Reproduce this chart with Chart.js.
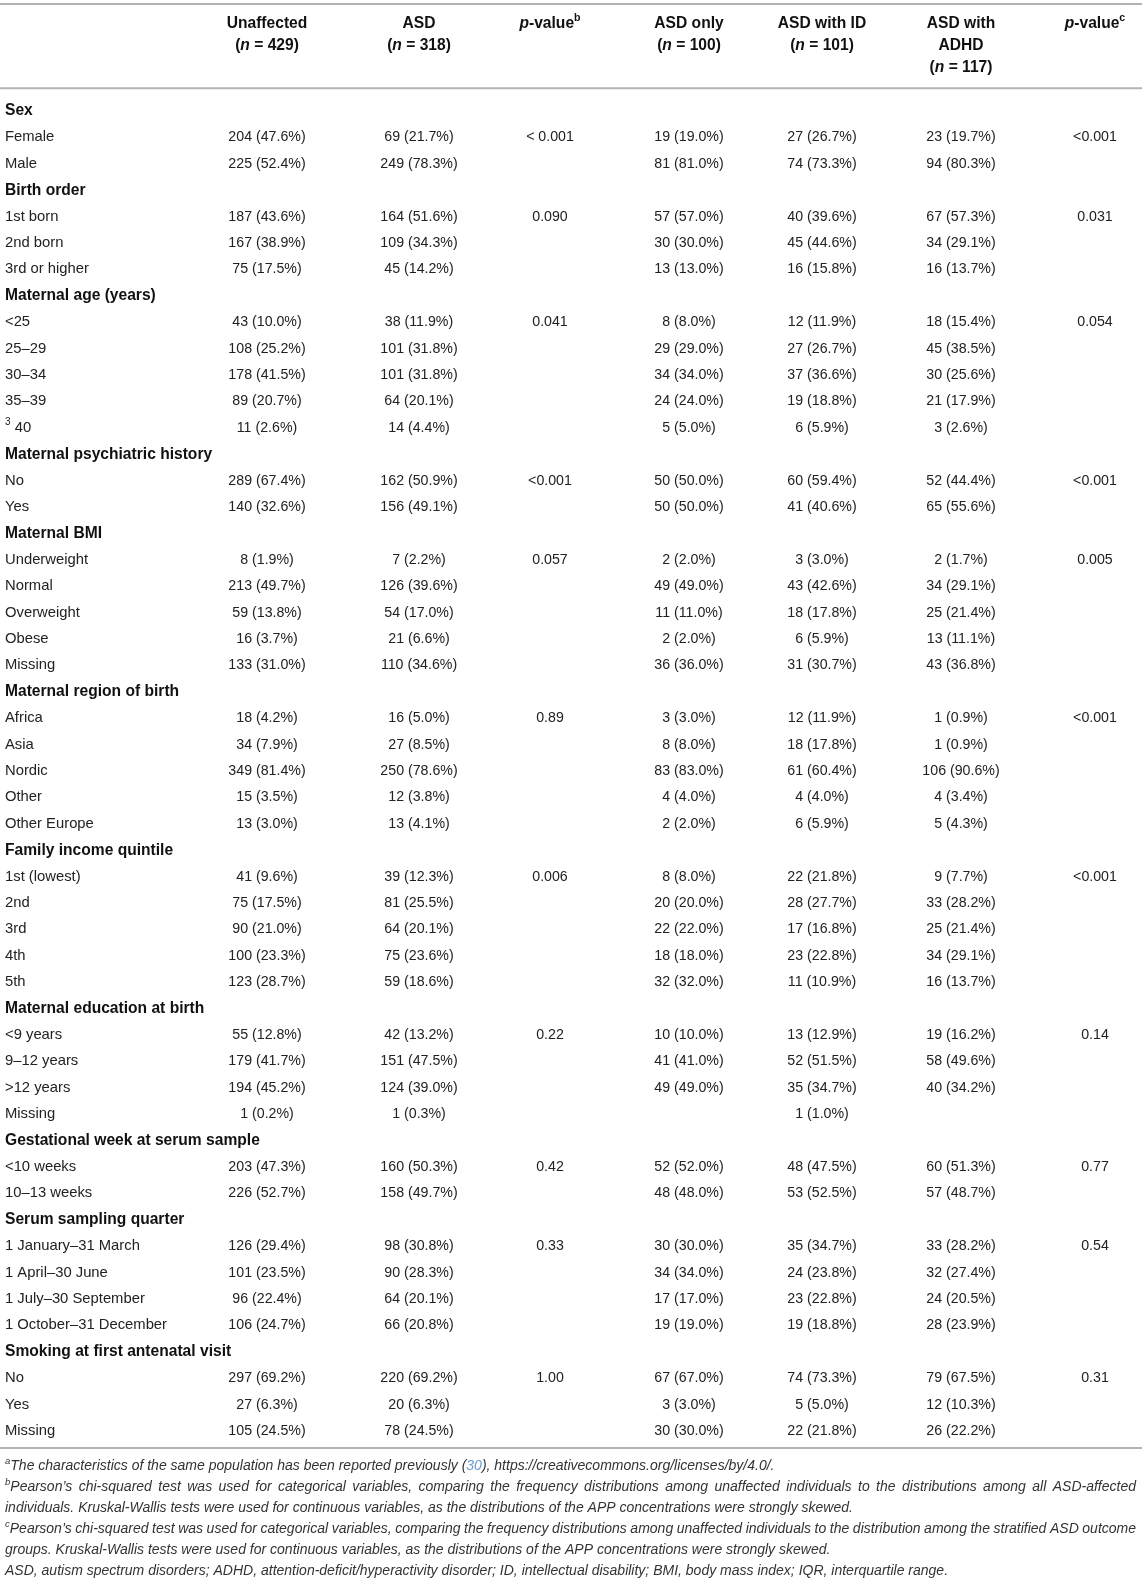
<!DOCTYPE html>
<html>
<head>
<meta charset="utf-8">
<script src="https://cdn.jsdelivr.net/npm/chart.js@4.4.0/dist/chart.umd.min.js"></script>
<style>
html, body { margin: 0; padding: 0; background: #fff; }
canvas { display: block; }
</style>
</head>
<body>
<canvas id="chart" width="1146" height="1582"></canvas>
<script>
// row labels, section rows are bold
const rowLabels = [
  'Sex', 'Female', 'Male',
  'Birth order', '1st born', '2nd born', '3rd or higher',
  'Maternal age (years)', '<25', '25–29', '30–34', '35–39', '^3^ 40',
  'Maternal psychiatric history', 'No', 'Yes',
  'Maternal BMI', 'Underweight', 'Normal', 'Overweight', 'Obese', 'Missing',
  'Maternal region of birth', 'Africa', 'Asia', 'Nordic', 'Other', 'Other Europe',
  'Family income quintile', '1st (lowest)', '2nd', '3rd', '4th', '5th',
  'Maternal education at birth', '<9 years', '9–12 years', '>12 years', 'Missing',
  'Gestational week at serum sample', '<10 weeks', '10–13 weeks',
  'Serum sampling quarter', '1 January–31 March', '1 April–30 June', '1 July–30 September', '1 October–31 December',
  'Smoking at first antenatal visit', 'No', 'Yes', 'Missing'
];
const sectionRows = [0, 3, 7, 13, 16, 22, 28, 34, 39, 42, 47];

const unaffected = [
  '', '204 (47.6%)', '225 (52.4%)',
  '', '187 (43.6%)', '167 (38.9%)', '75 (17.5%)',
  '', '43 (10.0%)', '108 (25.2%)', '178 (41.5%)', '89 (20.7%)', '11 (2.6%)',
  '', '289 (67.4%)', '140 (32.6%)',
  '', '8 (1.9%)', '213 (49.7%)', '59 (13.8%)', '16 (3.7%)', '133 (31.0%)',
  '', '18 (4.2%)', '34 (7.9%)', '349 (81.4%)', '15 (3.5%)', '13 (3.0%)',
  '', '41 (9.6%)', '75 (17.5%)', '90 (21.0%)', '100 (23.3%)', '123 (28.7%)',
  '', '55 (12.8%)', '179 (41.7%)', '194 (45.2%)', '1 (0.2%)',
  '', '203 (47.3%)', '226 (52.7%)',
  '', '126 (29.4%)', '101 (23.5%)', '96 (22.4%)', '106 (24.7%)',
  '', '297 (69.2%)', '27 (6.3%)', '105 (24.5%)'
];
const asd = [
  '', '69 (21.7%)', '249 (78.3%)',
  '', '164 (51.6%)', '109 (34.3%)', '45 (14.2%)',
  '', '38 (11.9%)', '101 (31.8%)', '101 (31.8%)', '64 (20.1%)', '14 (4.4%)',
  '', '162 (50.9%)', '156 (49.1%)',
  '', '7 (2.2%)', '126 (39.6%)', '54 (17.0%)', '21 (6.6%)', '110 (34.6%)',
  '', '16 (5.0%)', '27 (8.5%)', '250 (78.6%)', '12 (3.8%)', '13 (4.1%)',
  '', '39 (12.3%)', '81 (25.5%)', '64 (20.1%)', '75 (23.6%)', '59 (18.6%)',
  '', '42 (13.2%)', '151 (47.5%)', '124 (39.0%)', '1 (0.3%)',
  '', '160 (50.3%)', '158 (49.7%)',
  '', '98 (30.8%)', '90 (28.3%)', '64 (20.1%)', '66 (20.8%)',
  '', '220 (69.2%)', '20 (6.3%)', '78 (24.5%)'
];
const pValueB = [
  '', '< 0.001', '',
  '', '0.090', '', '',
  '', '0.041', '', '', '', '',
  '', '<0.001', '',
  '', '0.057', '', '', '', '',
  '', '0.89', '', '', '', '',
  '', '0.006', '', '', '', '',
  '', '0.22', '', '', '',
  '', '0.42', '',
  '', '0.33', '', '', '',
  '', '1.00', '', ''
];
const asdOnly = [
  '', '19 (19.0%)', '81 (81.0%)',
  '', '57 (57.0%)', '30 (30.0%)', '13 (13.0%)',
  '', '8 (8.0%)', '29 (29.0%)', '34 (34.0%)', '24 (24.0%)', '5 (5.0%)',
  '', '50 (50.0%)', '50 (50.0%)',
  '', '2 (2.0%)', '49 (49.0%)', '11 (11.0%)', '2 (2.0%)', '36 (36.0%)',
  '', '3 (3.0%)', '8 (8.0%)', '83 (83.0%)', '4 (4.0%)', '2 (2.0%)',
  '', '8 (8.0%)', '20 (20.0%)', '22 (22.0%)', '18 (18.0%)', '32 (32.0%)',
  '', '10 (10.0%)', '41 (41.0%)', '49 (49.0%)', '',
  '', '52 (52.0%)', '48 (48.0%)',
  '', '30 (30.0%)', '34 (34.0%)', '17 (17.0%)', '19 (19.0%)',
  '', '67 (67.0%)', '3 (3.0%)', '30 (30.0%)'
];
const asdWithId = [
  '', '27 (26.7%)', '74 (73.3%)',
  '', '40 (39.6%)', '45 (44.6%)', '16 (15.8%)',
  '', '12 (11.9%)', '27 (26.7%)', '37 (36.6%)', '19 (18.8%)', '6 (5.9%)',
  '', '60 (59.4%)', '41 (40.6%)',
  '', '3 (3.0%)', '43 (42.6%)', '18 (17.8%)', '6 (5.9%)', '31 (30.7%)',
  '', '12 (11.9%)', '18 (17.8%)', '61 (60.4%)', '4 (4.0%)', '6 (5.9%)',
  '', '22 (21.8%)', '28 (27.7%)', '17 (16.8%)', '23 (22.8%)', '11 (10.9%)',
  '', '13 (12.9%)', '52 (51.5%)', '35 (34.7%)', '1 (1.0%)',
  '', '48 (47.5%)', '53 (52.5%)',
  '', '35 (34.7%)', '24 (23.8%)', '23 (22.8%)', '19 (18.8%)',
  '', '74 (73.3%)', '5 (5.0%)', '22 (21.8%)'
];
const asdWithAdhd = [
  '', '23 (19.7%)', '94 (80.3%)',
  '', '67 (57.3%)', '34 (29.1%)', '16 (13.7%)',
  '', '18 (15.4%)', '45 (38.5%)', '30 (25.6%)', '21 (17.9%)', '3 (2.6%)',
  '', '52 (44.4%)', '65 (55.6%)',
  '', '2 (1.7%)', '34 (29.1%)', '25 (21.4%)', '13 (11.1%)', '43 (36.8%)',
  '', '1 (0.9%)', '1 (0.9%)', '106 (90.6%)', '4 (3.4%)', '5 (4.3%)',
  '', '9 (7.7%)', '33 (28.2%)', '25 (21.4%)', '34 (29.1%)', '16 (13.7%)',
  '', '19 (16.2%)', '58 (49.6%)', '40 (34.2%)', '',
  '', '60 (51.3%)', '57 (48.7%)',
  '', '33 (28.2%)', '32 (27.4%)', '24 (20.5%)', '28 (23.9%)',
  '', '79 (67.5%)', '12 (10.3%)', '26 (22.2%)'
];
const pValueC = [
  '', '<0.001', '',
  '', '0.031', '', '',
  '', '0.054', '', '', '', '',
  '', '<0.001', '',
  '', '0.005', '', '', '', '',
  '', '<0.001', '', '', '', '',
  '', '<0.001', '', '', '', '',
  '', '0.14', '', '', '',
  '', '0.77', '',
  '', '0.54', '', '', '',
  '', '0.31', '', ''
];

// column headers (*..* italic, ^..^ superscript)
const headers = [
  ['Unaffected', '(*n* = 429)'],
  ['ASD', '(*n* = 318)'],
  ['*p*-value^b^'],
  ['ASD only', '(*n* = 100)'],
  ['ASD with ID', '(*n* = 101)'],
  ['ASD with', 'ADHD', '(*n* = 117)'],
  ['*p*-value^c^']
];

const footnotes = [
  ['^a^The characteristics of the same population has been reported previously (~30~), https://creativecommons.org/licenses/by/4.0/.', false],
  ['^b^Pearson’s chi-squared test was used for categorical variables, comparing the frequency distributions among unaffected individuals to the distributions among all ASD-affected', true],
  ['individuals. Kruskal-Wallis tests were used for continuous variables, as the distributions of the APP concentrations were strongly skewed.', false],
  ['^c^Pearson’s chi-squared test was used for categorical variables, comparing the frequency distributions among unaffected individuals to the distribution among the stratified ASD outcome', true],
  ['groups. Kruskal-Wallis tests were used for continuous variables, as the distributions of the APP concentrations were strongly skewed.', false],
  ['ASD, autism spectrum disorders; ADHD, attention-deficit/hyperactivity disorder; ID, intellectual disability; BMI, body mass index; IQR, interquartile range.', false]
];

// layout (x in page pixels, y in row units; row 0 = "Sex")
const columns = [unaffected, asd, pValueB, asdOnly, asdWithId, asdWithAdhd, pValueC];
const colX = [267, 419, 550, 689, 822, 961, 1095];
const labelX = 5;
const ROW0 = 111, ROWH = 26.4;
const headerY = [-3.3, -2.47, -1.64];
const ruleY = [-4.05, -0.86, 50.64];
const footY = [51.34, 52.13, 52.92, 53.71, 54.5, 55.29];
const FONT = '"Liberation Sans", Arial, Helvetica, sans-serif';
const TEXT = '#222';
const SIZE_VALUE = 14.2, SIZE_LABEL = 14.8, SIZE_BOLD = 15.6, SIZE_NOTE = 14.0;

function parseRuns(s) {
  const runs = [];
  let it = false, sup = false, link = false, cur = '';
  const push = () => { if (cur) runs.push({ t: cur, it, sup, link }); cur = ''; };
  for (const ch of s) {
    if (ch === '*') { push(); it = !it; }
    else if (ch === '^') { push(); sup = !sup; }
    else if (ch === '~') { push(); link = !link; }
    else cur += ch;
  }
  push();
  return runs;
}

function setFont(ctx, r, base) {
  const size = r.sup ? base.size * 0.68 : base.size;
  const italic = base.italic || r.it;
  ctx.font = (italic ? 'italic ' : '') + (base.bold ? 'bold ' : '') + size + 'px ' + FONT;
}

function runsWidth(ctx, runs, base) {
  let w = 0;
  runs.forEach(r => { setFont(ctx, r, base); w += ctx.measureText(r.t).width; });
  return w;
}

function drawRuns(ctx, runs, x, y, align, base) {
  let cx = align === 'center' ? x - runsWidth(ctx, runs, base) / 2 : x;
  runs.forEach(r => {
    setFont(ctx, r, base);
    ctx.fillStyle = r.link ? '#6b9bd1' : (base.color || TEXT);
    ctx.fillText(r.t, cx, r.sup ? y - base.size * 0.36 : y);
    cx += ctx.measureText(r.t).width;
  });
}

// split runs into words for justified lines
function runsToWords(runs) {
  const words = [[]];
  runs.forEach(r => {
    const parts = r.t.split(' ');
    parts.forEach((p, i) => {
      if (i > 0) words.push([]);
      if (p) words[words.length - 1].push(Object.assign({}, r, { t: p }));
    });
  });
  return words.filter(w => w.length);
}

const tablePlugin = {
  id: 'tableText',
  afterDatasetsDraw(chart) {
    const ctx = chart.ctx;
    const xs = chart.scales.x, ys = chart.scales.y;
    ctx.save();
    ctx.textBaseline = 'middle';

    ctx.strokeStyle = '#b3b3b3';
    ctx.lineWidth = 2;
    ruleY.forEach(v => {
      const py = ys.getPixelForValue(v);
      ctx.beginPath();
      ctx.moveTo(xs.getPixelForValue(0), py);
      ctx.lineTo(xs.getPixelForValue(1142), py);
      ctx.stroke();
    });

    chart.data.datasets.forEach((ds, di) => {
      const meta = chart.getDatasetMeta(di);
      meta.data.forEach((pt, i) => {
        const cell = ds.data[i];
        if (!cell.text) return;
        const size = cell.bold ? SIZE_BOLD : (ds.align === 'left' ? SIZE_LABEL : SIZE_VALUE);
        const base = { size, bold: !!cell.bold, color: cell.bold ? '#111' : TEXT };
        drawRuns(ctx, parseRuns(cell.text), pt.x, pt.y, ds.align, base);
      });
    });

    const fbase = { size: SIZE_NOTE, italic: true, color: '#333' };
    const left = xs.getPixelForValue(labelX), right = xs.getPixelForValue(1136);
    footnotes.forEach(([txt, justify], i) => {
      const py = ys.getPixelForValue(footY[i]);
      const runs = parseRuns(txt);
      if (!justify) { drawRuns(ctx, runs, left, py, 'left', fbase); return; }
      const words = runsToWords(runs);
      const widths = words.map(w => runsWidth(ctx, w, fbase));
      const gap = (right - left - widths.reduce((a, b) => a + b, 0)) / (words.length - 1);
      let cx = left;
      words.forEach((w, k) => { drawRuns(ctx, w, cx, py, 'left', fbase); cx += widths[k] + gap; });
    });
    ctx.restore();
  }
};

const datasets = [];
datasets.push({
  label: 'rows', align: 'left',
  data: rowLabels.map((t, i) => ({ x: labelX, y: i, text: t, bold: sectionRows.includes(i) }))
});
columns.forEach((col, c) => {
  datasets.push({
    label: 'col' + c, align: 'center',
    data: col.map((t, i) => ({ x: colX[c], y: i, text: t }))
  });
});
datasets.push({
  label: 'headers', align: 'center',
  data: headers.flatMap((h, c) => h.map((t, k) => ({ x: colX[c], y: headerY[k], text: t, bold: true })))
});
datasets.forEach(d => { d.pointRadius = 0; d.pointHoverRadius = 0; d.showLine = false; });

new Chart(document.getElementById('chart').getContext('2d'), {
  type: 'scatter',
  data: { datasets },
  options: {
    responsive: false,
    animation: false,
    devicePixelRatio: 1,
    layout: { padding: 0 },
    events: [],
    scales: {
      x: { type: 'linear', min: 0, max: 1146, display: false },
      y: { type: 'linear', min: -ROW0 / ROWH, max: (1582 - ROW0) / ROWH, reverse: true, display: false }
    },
    plugins: { legend: { display: false }, tooltip: { enabled: false } }
  },
  plugins: [tablePlugin]
});
</script>
</body>
</html>
